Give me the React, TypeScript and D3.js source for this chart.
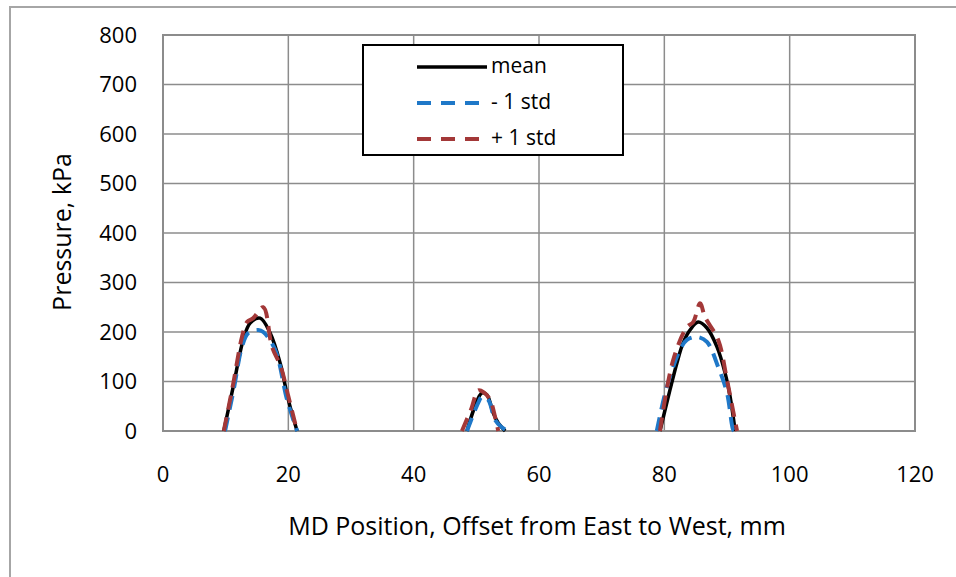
import React from "react";
import * as d3 from "d3";

// x positions (mm) and pressures (kPa); null marks a gap between peaks
const meanX = [9.7, 11.2, 12.8, 13.9, 15.5, 17.1, 18.7, 20.0, 21.4, null, 48.5, 50.9, 51.7, 52.7, 53.5, 54.6, null, 79.3, 80.9, 82.0, 83.0, 84.1, 85.4, 86.8, 88.4, 89.7, 90.5, 91.3];
const meanY = [0, 89, 184, 218, 228, 198, 137, 63, 0, null, 0, 77, 73, 36, 16, 0, null, 0, 83, 137, 178, 204, 220, 208, 170, 117, 69, 0];

const minusX = [9.9, 11.3, 12.6, 13.6, 15.2, 16.0, 17.9, 19.8, 21.4, null, 48.5, 50.3, 50.9, 51.9, 53.0, 54.0, 55.0, null, 78.8, 80.4, 82.5, 83.6, 85.2, 86.8, 88.6, 90.0, 91.0, 91.2];
const minusY = [0, 85, 170, 198, 204, 200, 164, 63, 0, null, 0, 57, 69, 63, 22, 8, 0, null, 0, 89, 164, 184, 190, 180, 129, 77, 2, 0];

const plusX = [9.7, 11.2, 12.6, 13.4, 14.4, 16.0, 17.4, 18.8, 20.0, 21.4, null, 47.7, 49.2, 50.3, 51.2, 52.2, 53.0, 53.5, null, 79.3, 81.4, 83.6, 84.6, 85.7, 86.5, 88.6, 90.0, 91.6];
const plusY = [0, 95, 190, 220, 228, 250, 170, 130, 70, 0, null, 0, 45, 82, 78, 63, 28, 0, null, 0, 143, 210, 220, 258, 230, 184, 103, 0];

const xTicks = [0, 20, 40, 60, 80, 100, 120];
const yTicks = [0, 100, 200, 300, 400, 500, 600, 700, 800];

const seriesNames = ["mean", "- 1 std", "+ 1 std"];
const seriesColors = ["#000000", "#1f78c8", "#a33838"];

const W = 956;
const H = 577;
const left = 163, right = 915, top = 35, bottom = 431;
const font = "'Open Sans', sans-serif";

export default function App() {
  const x = d3.scaleLinear().domain([0, 120]).range([left, right]);
  const y = d3.scaleLinear().domain([0, 800]).range([bottom, top]);

  const toPts = (xs: (number | null)[], ys: (number | null)[]) =>
    xs.map((v, i) => [v, ys[i]] as [number | null, number | null]);

  const line = d3
    .line<[number | null, number | null]>()
    .defined((d) => d[0] !== null && d[1] !== null)
    .x((d) => x(d[0] as number))
    .y((d) => y(d[1] as number))
    .curve(d3.curveCatmullRom.alpha(0.5));

  const series = [
    { pts: toPts(meanX, meanY), color: seriesColors[0], dash: undefined, w: 3.5 },
    { pts: toPts(minusX, minusY), color: seriesColors[1], dash: "14 8", w: 4 },
    { pts: toPts(plusX, plusY), color: seriesColors[2], dash: "14 8", w: 4 },
  ];

  const grid = "#8c8c8c";

  return (
    <svg width={W} height={H} style={{ position: "absolute", left: 0, top: 0 }}>
      <rect x={0} y={0} width={W} height={H} fill="#fff" />
      {/* outer chart frame */}
      <path d={`M10,${H + 5} V7 H${W + 5}`} fill="none" stroke="#a6a6a6" strokeWidth={2} />
      {/* gridlines */}
      {xTicks.map((t) => (
        <line key={"gx" + t} x1={x(t)} x2={x(t)} y1={top} y2={bottom} stroke={grid} strokeWidth={1.5} />
      ))}
      {yTicks.map((t) => (
        <line key={"gy" + t} x1={left} x2={right} y1={y(t)} y2={y(t)} stroke={grid} strokeWidth={1.5} />
      ))}
      <rect x={left} y={top} width={right - left} height={bottom - top} fill="none" stroke={grid} strokeWidth={2} />
      {/* tick labels */}
      {yTicks.map((t) => (
        <text key={"ty" + t} x={137} y={y(t)} dy="0.35em" textAnchor="end" fontFamily={font} fontSize={22} fill="#000">
          {t}
        </text>
      ))}
      {xTicks.map((t) => (
        <text key={"tx" + t} x={x(t)} y={474} dy="0.35em" textAnchor="middle" fontFamily={font} fontSize={22} fill="#000">
          {t}
        </text>
      ))}
      {/* axis titles */}
      <text x={537} y={526} dy="0.35em" textAnchor="middle" fontFamily={font} fontSize={25} fill="#000">
        MD Position, Offset from East to West, mm
      </text>
      <text
        transform={`translate(62,232) rotate(-90)`}
        dy="0.35em"
        textAnchor="middle"
        fontFamily={font}
        fontSize={25}
        fill="#000"
      >
        Pressure, kPa
      </text>
      {/* series */}
      {series.map((s, i) => (
        <path
          key={"s" + i}
          d={line(s.pts) || ""}
          fill="none"
          stroke={s.color}
          strokeWidth={s.w}
          strokeDasharray={s.dash}
          strokeLinejoin="round"
        />
      ))}
      {/* legend */}
      <rect x={363} y={45} width={260} height={110} fill="#fff" stroke="#000" strokeWidth={2} />
      {seriesNames.map((n, i) => (
        <g key={"lg" + i}>
          <line
            x1={417}
            x2={487}
            y1={67 + i * 36}
            y2={67 + i * 36}
            stroke={seriesColors[i]}
            strokeWidth={i === 0 ? 3.5 : 4}
            strokeDasharray={i === 0 ? undefined : "14 10"}
          />
          <text x={491} y={66 + i * 36} dy="0.35em" fontFamily={font} fontSize={21} fill="#000">
            {n}
          </text>
        </g>
      ))}
    </svg>
  );
}
